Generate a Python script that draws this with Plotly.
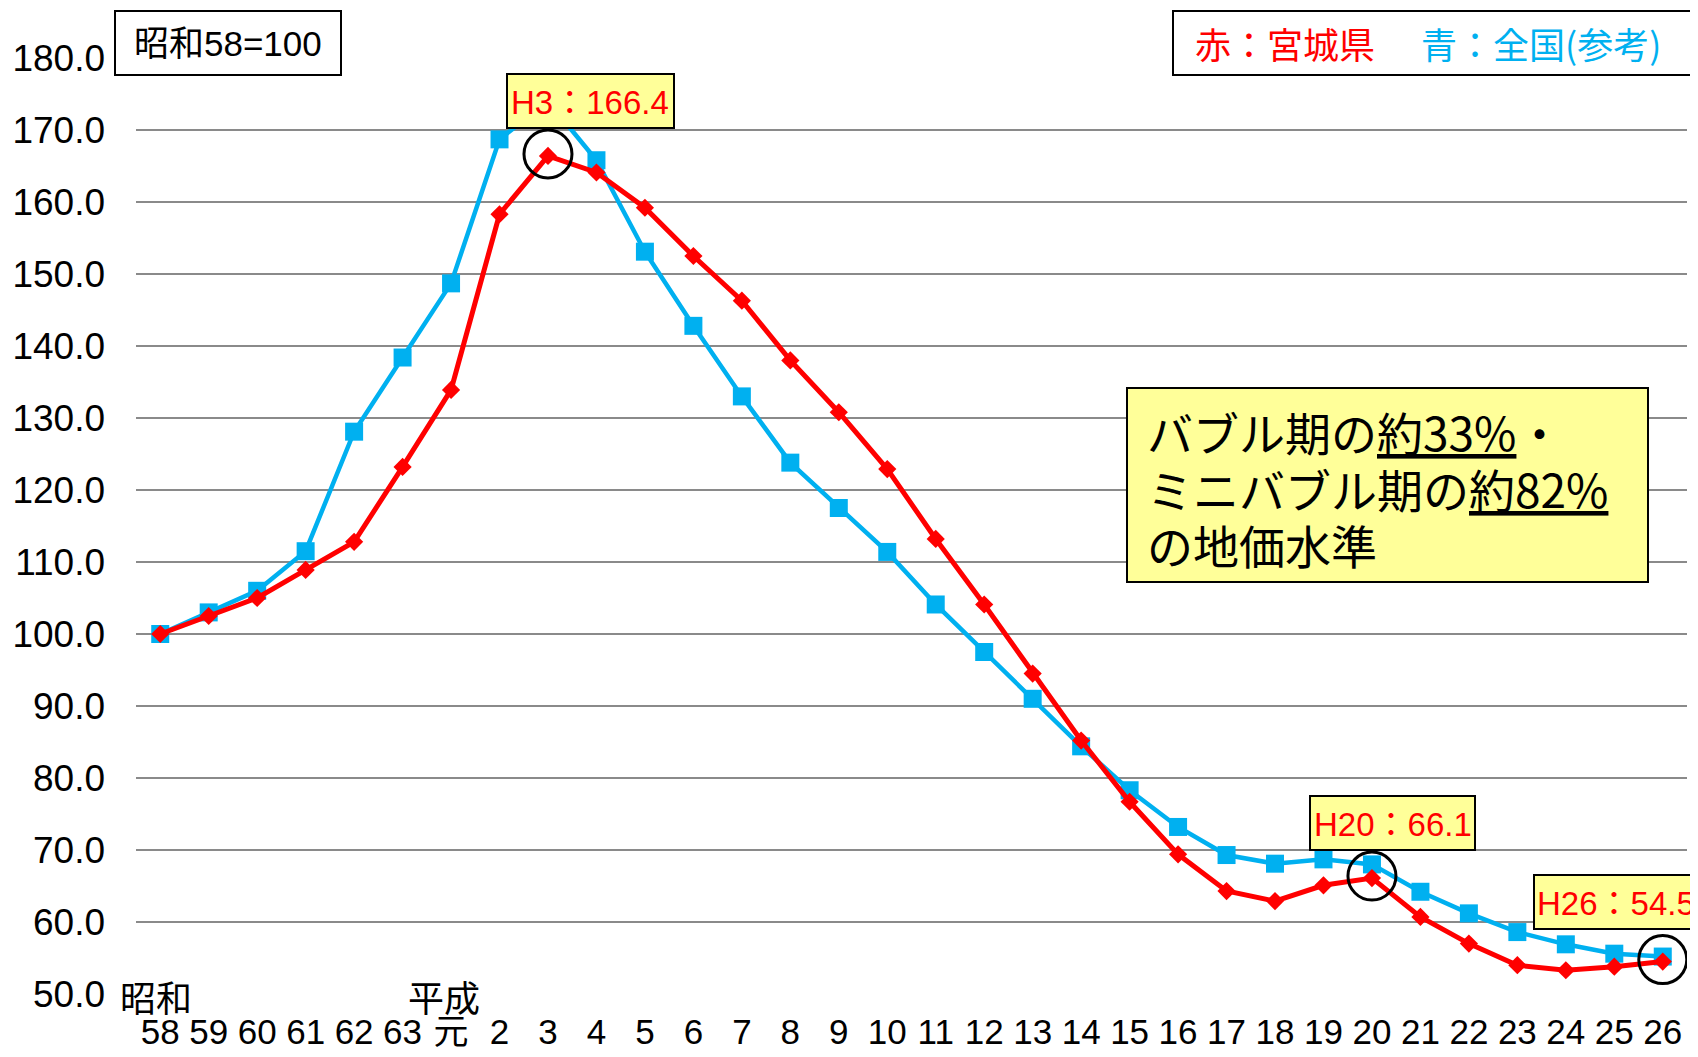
import plotly.graph_objects as go

# ---------------- data ----------------
labels = ["58", "59", "60", "61", "62", "63", "元", "2", "3", "4", "5", "6", "7", "8",
          "9", "10", "11", "12", "13", "14", "15", "16", "17", "18", "19", "20", "21",
          "22", "23", "24", "25", "26"]

miyagi = [100.0, 102.5, 105.0, 108.9, 112.8, 123.2, 133.9, 158.3, 166.4, 164.1, 159.2,
          152.5, 146.3, 138.0, 130.8, 122.9, 113.2, 104.1, 94.5, 85.2, 76.7, 69.4, 64.3,
          62.9, 65.1, 66.1, 60.7, 57.0, 54.0, 53.3, 53.8, 54.5]

zenkoku = [100.0, 103.0, 106.0, 111.5, 128.1, 138.4, 148.7, 168.7, 174.0, 165.8, 153.1,
           142.8, 133.0, 123.8, 117.5, 111.4, 104.1, 97.5, 91.0, 84.4, 78.3, 73.2, 69.3,
           68.1, 68.7, 68.0, 64.2, 61.2, 58.6, 56.9, 55.6, 55.2]

ytickvals = [50, 60, 70, 80, 90, 100, 110, 120, 130, 140, 150, 160, 170, 180]
highlight = ["3", "20", "26"]

# ---------------- layout helpers (page pixel coordinates) ----------------
PW, PH = 1698, 1057
OFF = 8                      # default body margin of the html page
FW, FH = PW - OFF, PH - OFF
L, R, T, B = 136, 1687, 58, 994


def px(x):
    return (x - L) / (R - L)


def py(y):
    return (B - y) / (B - T)


RED = "#FF0000"
BLUE = "#00B0F0"
YEL = "#FFFF99"
CJK = "Noto Sans CJK JP"
LAT = "Liberation Sans, Arial, " + CJK

xs = list(range(len(labels)))

fig = go.Figure()
fig.add_trace(go.Scatter(
    x=xs, y=zenkoku, mode="lines+markers", name="全国",
    line=dict(color=BLUE, width=4.5),
    marker=dict(symbol="square", size=18, color=BLUE),
    showlegend=False, hoverinfo="skip"))
fig.add_trace(go.Scatter(
    x=xs, y=miyagi, mode="lines+markers", name="宮城県",
    line=dict(color=RED, width=5),
    marker=dict(symbol="diamond", size=14, color=RED),
    showlegend=False, hoverinfo="skip"))

shapes = []
annotations = []

# circles around highlighted red points
for lab in highlight:
    i = labels.index(lab)
    shapes.append(dict(type="circle", xref="x", yref="y", xsizemode="pixel",
                       ysizemode="pixel", xanchor=i, yanchor=miyagi[i],
                       x0=-24, x1=24, y0=-22, y1=26,
                       line=dict(color="black", width=3), layer="above"))


def box(x0, y0, x1, y1, fill, lw=2):
    shapes.append(dict(type="rect", xref="paper", yref="paper",
                       x0=px(x0), x1=px(x1), y0=py(y1), y1=py(y0),
                       fillcolor=fill, line=dict(color="black", width=lw),
                       layer="above"))


def text(cx, cy, s, size, color="black", family=CJK, xanchor="center", align="center"):
    annotations.append(dict(xref="paper", yref="paper", x=px(cx), y=py(cy), text=s,
                            showarrow=False, xanchor=xanchor, yanchor="middle",
                            align=align,
                            font=dict(size=size, color=color, family=family)))


# base box
box(115, 11, 341, 75, "white")
text(228, 43, "昭和58=100", 35, family=LAT)

# colour key box
box(1173, 11, 1712, 75, "white")
text(1193, 43, "赤：宮城県", 36, color=RED, xanchor="left")
text(1419, 43, "青：全国(参考)", 36, color=BLUE, xanchor="left")

# value label boxes
lab_boxes = {"3": (507, 74, 674, 128), "20": (1310, 796, 1475, 850),
             "26": (1534, 875, 1712, 929)}
lab_centers = {"3": 590, "20": 1393, "26": 1616}
for lab in highlight:
    i = labels.index(lab)
    x0, y0, x1, y1 = lab_boxes[lab]
    box(x0, y0, x1, y1, YEL)
    s = "H%s：%.1f" % (lab, miyagi[i])
    text(lab_centers[lab], (y0 + y1) / 2 + 1, s, 33, color=RED, family=LAT)

# comment box
box(1127, 388, 1648, 582, YEL)
comment = ["バブル期の<u>約33%</u>・", "ミニバブル期の<u>約82%</u>", "の地価水準"]
for line, cy in zip(comment, [431, 488, 544]):
    text(1145, cy, line, 46, xanchor="left", align="left")

# era labels
text(156, 996, "昭和", 36)
text(444, 996, "平成", 36)

fig.update_layout(
    width=FW, height=FH,
    margin=dict(l=L - OFF, r=PW - R, t=T - OFF, b=PH - B, autoexpand=False),
    paper_bgcolor="white", plot_bgcolor="white",
    shapes=shapes, annotations=annotations,
    xaxis=dict(range=[-0.5, len(labels) - 0.5], tickvals=xs, ticktext=labels,
               showgrid=False, zeroline=False, showline=False, ticks="",
               automargin=False,
               tickfont=dict(family=LAT, size=35, color="black"),
               ticklabelstandoff=14),
    yaxis=dict(range=[50, 180], tickvals=ytickvals, tickformat=".1f",
               showgrid=True, gridcolor="#8a8a8a", gridwidth=1.8,
               zeroline=False, showline=False, ticks="", automargin=False,
               tickfont=dict(family="Liberation Sans, Arial", size=37, color="black"),
               ticklabelstandoff=30),
)

fig.write_html("out.html")
